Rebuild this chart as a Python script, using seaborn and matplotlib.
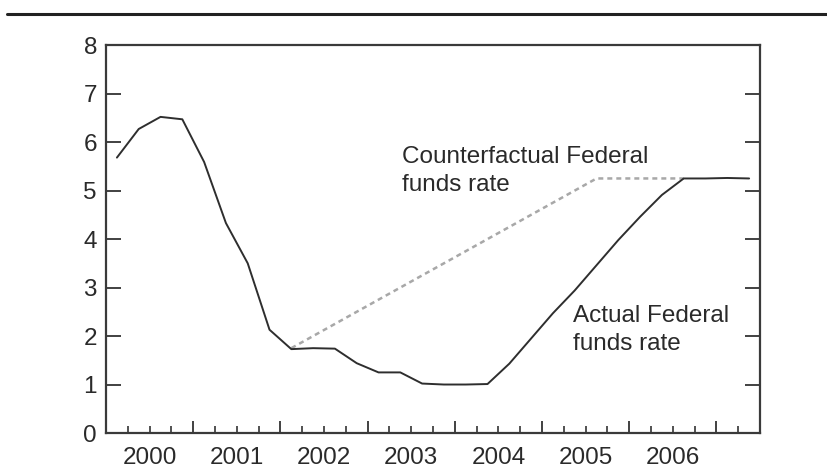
import matplotlib
matplotlib.use("Agg")
import matplotlib.pyplot as plt
from matplotlib.lines import Line2D
from matplotlib.ticker import FixedLocator, FuncFormatter
import seaborn as sns
import pandas as pd
import numpy as np

# Actual Federal funds rate (quarterly, plotted at mid-quarter)
actual_t = [2000.125, 2000.375, 2000.625, 2000.875,
            2001.125, 2001.375, 2001.625, 2001.875,
            2002.125, 2002.375, 2002.625, 2002.875,
            2003.125, 2003.375, 2003.625, 2003.875,
            2004.125, 2004.375, 2004.625, 2004.875,
            2005.125, 2005.375, 2005.625, 2005.875,
            2006.125, 2006.375, 2006.625, 2006.875,
            2007.125, 2007.375]
actual_rate = [5.68, 6.27, 6.52, 6.47,
               5.59, 4.33, 3.50, 2.13,
               1.73, 1.75, 1.74, 1.44,
               1.25, 1.25, 1.02, 1.00,
               1.00, 1.01, 1.43, 1.95,
               2.47, 2.94, 3.46, 3.98,
               4.46, 4.91, 5.25, 5.25,
               5.26, 5.25]

# Counterfactual Federal funds rate (vertices)
cf_t = [2002.125, 2005.625, 2006.625]
cf_rate = [1.75, 5.25, 5.25]

year_labels = ["2000", "2001", "2002", "2003", "2004", "2005", "2006"]
y_ticks = [0, 1, 2, 3, 4, 5, 6, 7, 8]

sns.set_style("ticks")
plt.rcParams['font.family'] = ['Liberation Sans', 'DejaVu Sans']

fig = plt.figure(figsize=(8.27, 4.70), dpi=100)
ax = fig.add_axes([0.1282, 0.0787, 0.919 - 0.1282, 0.904 - 0.0787])

df_a = pd.DataFrame({"t": actual_t, "rate": actual_rate})
df_c = pd.DataFrame({"t": cf_t, "rate": cf_rate})

sns.lineplot(data=df_c, x="t", y="rate", ax=ax, color="#a8a8a8",
             linewidth=1.8, linestyle=(0, (2.0, 1.6)), sort=False)
sns.lineplot(data=df_a, x="t", y="rate", ax=ax, color="#2e2e2e",
             linewidth=1.4, sort=False)

ax.set_xlim(2000, 2007.5)
ax.set_ylim(0, 8)
ax.set_xlabel("")
ax.set_ylabel("")

FS = 17.5

# y axis
ax.set_yticks(y_ticks)
ax.set_yticklabels([str(v) for v in y_ticks])
ax.tick_params(axis="y", which="major", direction="in", length=11,
               width=1.3, color="#333333", right=True, left=True,
               labelsize=FS, pad=6.5, labelcolor="#2a2a2a")

# x axis: long ticks at year boundaries, short quarterly ticks, labels mid-year
years = [2000 + i for i in range(8)]
ax.xaxis.set_major_locator(FixedLocator(years))
ax.xaxis.set_major_formatter(FuncFormatter(lambda v, p: ""))
quarters = [2000 + q / 4 for q in range(1, 30) if q % 4 != 0]
ax.xaxis.set_minor_locator(FixedLocator(quarters))

def minor_fmt(v, p):
    yr = int(np.floor(v))
    if abs(v - yr - 0.5) < 1e-6 and str(yr) in year_labels:
        return str(yr)
    return ""

ax.xaxis.set_minor_formatter(FuncFormatter(minor_fmt))
ax.tick_params(axis="x", which="major", direction="in", length=8.5,
               width=1.3, color="#333333", top=False)
ax.tick_params(axis="x", which="minor", direction="in", length=5,
               width=1.2, color="#333333", top=False,
               labelsize=FS, pad=10, labelcolor="#2a2a2a")

for s in ax.spines.values():
    s.set_linewidth(1.6)
    s.set_color("#3a3a3a")

ax.text(2003.39, 5.92, "Counterfactual Federal\nfunds rate", fontsize=FS,
        color="#2a2a2a", va="top", ha="left", linespacing=1.35)
ax.text(2005.36, 2.64, "Actual Federal\nfunds rate", fontsize=FS,
        color="#2a2a2a", va="top", ha="left", linespacing=1.35)

# top rule
fig.add_artist(Line2D([0.008, 1.0], [1 - 14 / 470, 1 - 14 / 470],
                      transform=fig.transFigure, color="#222222", linewidth=2.2))

fig.savefig("out.png", dpi=100)
